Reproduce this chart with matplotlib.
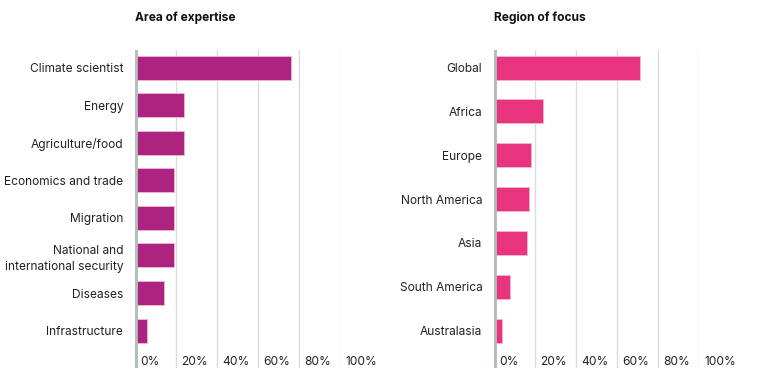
import matplotlib.pyplot as plt
import matplotlib.transforms as mtransforms

plt.rcParams['font.family'] = ['Inter', 'DejaVu Sans']

expertise = [
    "Climate scientist",
    "Energy",
    "Agriculture/food",
    "Economics and trade",
    "Migration",
    "National and\ninternational security",
    "Diseases",
    "Infrastructure",
]
expertise_pct = [76, 24, 24, 19, 19, 19, 14, 6]

regions = [
    "Global",
    "Africa",
    "Europe",
    "North America",
    "Asia",
    "South America",
    "Australasia",
]
regions_pct = [71, 24, 18, 17, 16, 8, 4]

ticks = [0, 20, 40, 60, 80, 100]
tick_labels = ["0%", "20%", "40%", "60%", "80%", "100%"]

W, H = 764, 384
fig = plt.figure(figsize=(W / 100, H / 100), dpi=100)


def panel(x0, title, cats, vals, color):
    # axes spans y px 50..368, 0..100% spans 205 px
    ax = fig.add_axes([x0 / W, (H - 368) / H, 205 / W, 318 / H])
    n = len(cats)
    step = (330.7 - 67.5) / (n - 1)
    ax.barh(range(n), vals, height=24 / step, color=color,
            edgecolor="#f3b6d2", linewidth=0.6, zorder=2)
    ax.set_xlim(0, 100)
    ax.set_ylim(n - 1 + (368 - 330.7) / step, -(67.5 - 50) / step)
    for t in ticks[1:]:
        ax.axvline(t, color="#dcdcdc", lw=1, zorder=1)
    ax.axvline(0, color="#b4bcba", lw=3.5, zorder=3)
    for s in ax.spines.values():
        s.set_visible(False)
    ax.set_xticks([])
    ax.set_yticks(range(n))
    ax.set_yticklabels(cats, fontsize=8.6, color="#222222", ha="right",
                       multialignment="right", linespacing=1.45)
    ax.tick_params(axis="y", length=0, pad=8.4)
    trans = mtransforms.blended_transform_factory(ax.transData, ax.transAxes)
    off = mtransforms.offset_copy(trans, fig=fig, x=5, y=0, units="dots")
    for t, lab in zip(ticks, tick_labels):
        ax.text(t, 0.02, lab, transform=off, fontsize=8.6, color="#222222",
                ha="left", va="center", clip_on=False)
    fig.text(x0 / W, 1 - 18 / H, title, fontsize=8.6, fontweight="bold",
             color="#111111", ha="left", va="center")
    return ax


panel(135, "Area of expertise", expertise, expertise_pct, "#ad2480")
panel(494, "Region of focus", regions, regions_pct, "#e8337f")

fig.savefig("out.png", dpi=100)
